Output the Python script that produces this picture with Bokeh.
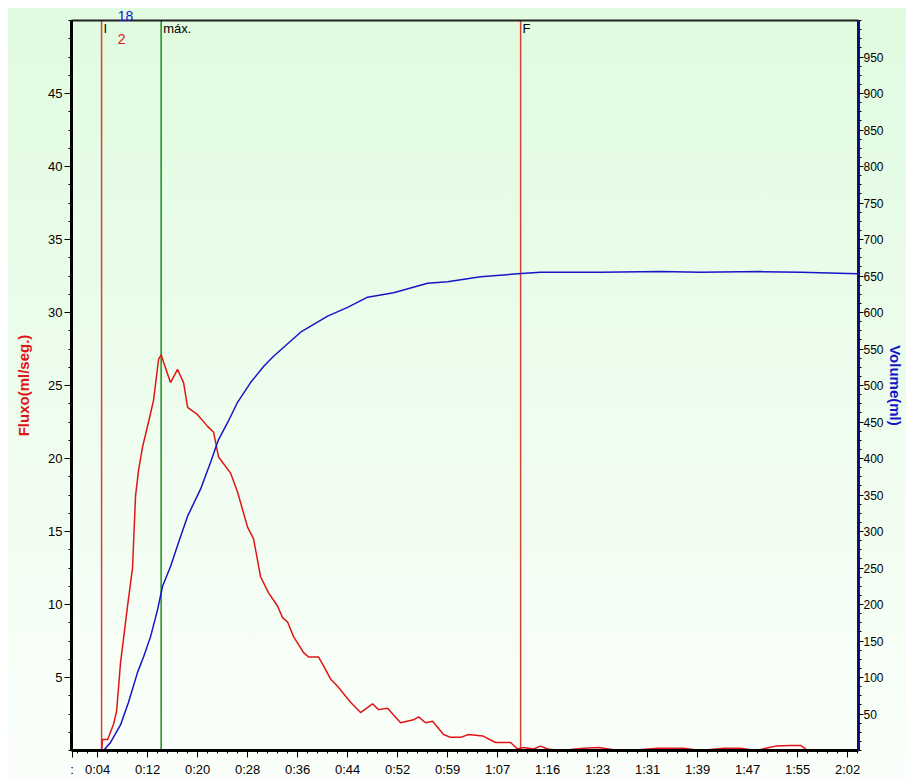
from bokeh.plotting import figure
from bokeh.models import Range1d, LinearAxis, FixedTicker, Span, Label
from bokeh.embed import file_html
from bokeh.resources import INLINE

# Uroflow record: flow (ml/s) and voided volume (ml) against time (s)
flow_t = [0.0, 4.63, 4.78, 5.57, 5.73, 6.51, 7.0, 7.61, 8.72, 9.50, 9.97, 10.45,
          11.08, 12.02, 12.81, 13.60, 14.0, 14.38, 15.48, 16.58, 17.53, 18.16,
          19.73, 21.31, 22.25, 23.04, 24.92, 26.02, 27.60, 28.54, 29.64, 30.90,
          32.31, 33.10, 33.89, 34.83, 36.41, 37.19, 38.77, 39.55, 40.65, 41.75,
          43.80, 45.37, 47.26, 48.20, 49.62, 51.67, 53.71, 54.50, 55.60, 56.70,
          58.43, 59.53, 61.11, 62.37, 64.57, 66.61, 68.97, 70.07, 71.02, 72.59,
          73.69, 74.79, 76.84, 80.46, 82.82, 85.18, 87.85, 92.10, 96.19, 98.86,
          102.48, 105.16, 107.52, 110.67, 113.03, 114.60, 115.71, 123.7]
flow_v = [0, 0, 0.75, 0.75, 0.9, 1.8, 2.7, 6.0, 9.9, 12.5, 17.4, 19.2,
          20.8, 22.5, 24.0, 26.8, 27.1, 26.6, 25.2, 26.1, 25.2, 23.5,
          23.0, 22.2, 21.8, 20.1, 19.0, 17.7, 15.3, 14.5, 11.9, 10.8,
          9.9, 9.1, 8.8, 7.8, 6.7, 6.4, 6.4, 5.8, 4.9, 4.4,
          3.3, 2.6, 3.2, 2.8, 2.9, 1.9, 2.1, 2.3, 1.9, 2.0,
          1.1, 0.9, 0.9, 1.1, 1.0, 0.55, 0.55, 0.1, 0.2, 0.1,
          0.3, 0.1, 0, 0.15, 0.2, 0.05, 0, 0.15, 0.15, 0,
          0.15, 0.15, 0, 0.3, 0.35, 0.35, 0, 0]

vol_t = [0.0, 4.94, 6.04, 7.61, 8.87, 10.29, 11.23, 12.34, 13.44, 14.22,
         15.48, 16.74, 18.16, 20.20, 21.78, 23.03, 24.45, 26.02, 28.07, 30.11,
         31.69, 35.94, 40.19, 43.33, 46.48, 50.57, 55.92, 59.06, 64.26, 70.08,
         73.69, 83.14, 92.58, 98.87, 108.3, 114.6, 123.6]
vol_v = [0, 0, 11, 35, 66, 107, 128, 156, 193, 225,
         252, 285, 321, 358, 395, 426, 449, 477, 504, 526,
         540, 573, 595, 607, 621, 627, 640, 642, 649, 653,
         655, 655, 656, 655, 656, 655, 653]

# Event markers (s): start, maximum flow, end
marker_start = 4.63
marker_max = 14.0
marker_end = 70.55

# Readouts printed near the start marker
readout_top = "18"
readout_flow = "2"

time_labels = [":", "0:04", "0:12", "0:20", "0:28", "0:36", "0:44", "0:52", "0:59",
               "1:07", "1:16", "1:23", "1:31", "1:39", "1:47", "1:55", "2:02"]
flow_ticks = [5, 10, 15, 20, 25, 30, 35, 40, 45]
vol_ticks = [50, 100, 150, 200, 250, 300, 350, 400, 450, 500,
             550, 600, 650, 700, 750, 800, 850, 900, 950]

FONT = "Liberation Sans"
RED = "#e01414"
BLUE = "#1616c8"
MARK_RED = "#d8402f"
GREEN = "#1e8c1e"

# time ticks sit at an even spacing between the first and last labelled seconds
step = (122 - 4) / 15
t_ticks = [0.0] + [round(4 + k * step, 4) for k in range(16)]
t_minor = [round(4 + (k - 2) * step / 5, 4) for k in range(0, 80) if 4 + (k - 2) * step / 5 < 123.7]

p = figure(width=906, height=779, x_range=Range1d(-0.1, 123.7), y_range=Range1d(0, 50),
           output_backend="svg", toolbar_location=None,
           x_axis_type=None, y_axis_type=None,
           min_border_left=71, min_border_right=48, min_border_top=20, min_border_bottom=29)
p.extra_y_ranges = {"vol": Range1d(0, 1000)}
p.border_fill_color = None
p.background_fill_color = None
p.outline_line_color = None
p.styles = {
    "background-image": "linear-gradient(to right, #ffffff 0px, #ffffff 8px, rgba(255,255,255,0) 8px), "
                        "linear-gradient(to bottom, #ffffff 0px, #ffffff 8px, #e0fbe0 8px, #fbfffb 100%)"
}

def style_axis(ax, line_color, width, size="13px"):
    ax.axis_line_color = line_color
    ax.axis_line_width = width
    ax.major_tick_line_color = "black"
    ax.minor_tick_line_color = "black"
    ax.major_tick_in = 0
    ax.minor_tick_in = 0
    ax.major_label_text_font = FONT
    ax.major_label_text_font_size = size
    ax.major_label_text_color = "black"

xaxis = LinearAxis(ticker=FixedTicker(ticks=t_ticks, minor_ticks=t_minor),
                   major_label_overrides={tv: lab for tv, lab in zip(t_ticks, time_labels)})
style_axis(xaxis, "black", 3)
xaxis.major_tick_out = 7
xaxis.minor_tick_out = 3
xaxis.major_label_standoff = 4
p.add_layout(xaxis, "below")

yaxis = LinearAxis(ticker=FixedTicker(ticks=flow_ticks,
                                      minor_ticks=[k * 1.25 for k in range(41)]),
                   axis_label="Fluxo(ml/seg.)")
style_axis(yaxis, "black", 3)
yaxis.major_tick_out = 7
yaxis.minor_tick_out = 3
yaxis.major_label_standoff = 2
yaxis.axis_label_text_color = RED
yaxis.axis_label_text_font = FONT
yaxis.axis_label_text_font_style = "bold"
yaxis.axis_label_text_font_size = "15px"
yaxis.axis_label_standoff = 13
p.add_layout(yaxis, "left")

raxis = LinearAxis(y_range_name="vol",
                   ticker=FixedTicker(ticks=vol_ticks,
                                      minor_ticks=[k * 12.5 for k in range(81)]),
                   axis_label="Volume(ml)")
style_axis(raxis, "#10107a", 3, "12px")
raxis.major_tick_out = 5
raxis.minor_tick_out = 3
raxis.major_label_standoff = 0
raxis.axis_label_text_color = BLUE
raxis.axis_label_text_font = FONT
raxis.axis_label_text_font_style = "bold"
raxis.axis_label_text_font_size = "15px"
raxis.axis_label_standoff = 0
p.add_layout(raxis, "right")

# top frame edge; its single tick carries the blue readout
top = LinearAxis(ticker=FixedTicker(ticks=[8.4]), major_label_overrides={8.4: readout_top},
                 axis_line_color="#222222", axis_line_width=2,
                 major_tick_out=0, major_tick_in=0, minor_tick_out=0, minor_tick_in=0,
                 major_label_standoff=0, major_label_text_color=BLUE,
                 major_label_text_font=FONT, major_label_text_font_size="14px")
p.add_layout(top, "above")

# dashed horizontal grid on the flow ticks
p.ygrid.ticker = FixedTicker(ticks=flow_ticks)
p.ygrid.grid_line_color = "#8a8a8a"
p.ygrid.grid_line_dash = "6 4"
p.ygrid.grid_line_width = 1.5
p.xgrid.visible = False

for loc, col in [(marker_start, MARK_RED), (marker_max, GREEN), (marker_end, MARK_RED)]:
    p.add_layout(Span(location=loc, dimension="height", line_color=col,
                      line_width=1.5, level="underlay"))

p.line(flow_t, flow_v, color=RED, line_width=1.5)
p.line(vol_t, vol_v, y_range_name="vol", color=BLUE, line_width=1.5)

for x, txt in [(marker_start, "I"), (marker_max, "máx."), (marker_end, "F")]:
    p.add_layout(Label(x=x, y=50, x_offset=2, text=txt, text_baseline="top",
                       text_font=FONT, text_font_size="13px", text_color="black"))

p.add_layout(Label(x=7.8, y=48.7, text=readout_flow, text_align="center", text_baseline="middle",
                   text_font=FONT, text_font_size="14px", text_color=RED))

open("out.html", "w").write(file_html(p, INLINE))
